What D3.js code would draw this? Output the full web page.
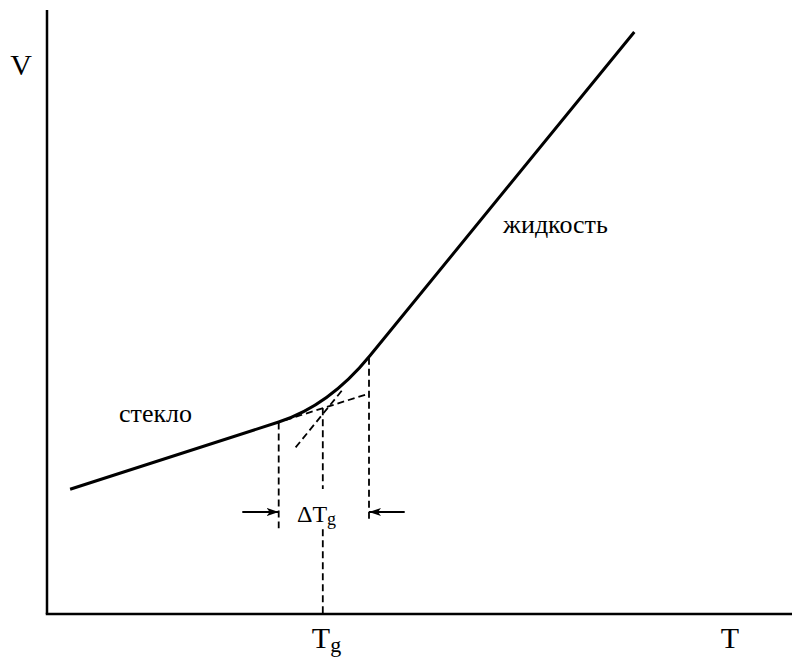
<!DOCTYPE html>
<html>
<head>
<meta charset="utf-8">
<script src="https://cdn.jsdelivr.net/npm/d3@7"></script>
<style>
  body { margin: 0; background: #fff; }
</style>
</head>
<body>
<script>
// Schematic V(T) curve, arbitrary units 0..100 on both axes
const glassLine = [[3.3, 20.8], [33.1, 32.0]];
const liquidLine = [[46.1, 43.0], [83.9, 97.0]];
const glassExtension = [[34.0, 32.3], [45.9, 36.7]];
const liquidExtension = [[42.1, 37.2], [35.4, 27.6]];
const tgValue = [39.4];
const tgTop = [34.3];
const deltaBounds = [[33.1, 31.9, 14.3], [46.0, 42.7, 15.3]];
const arrowLevel = [17.0];
const arrows = [[27.9, 33.1], [51.1, 46.0]];
const axisLabels = ['V', 'T'];
const regionLabels = ['стекло', 'жидкость'];

const width = 792;
const height = 657;

const svg = d3.select('body')
  .append('svg')
  .attr('width', width)
  .attr('height', height)
  .attr('font-family', '"Liberation Serif", "DejaVu Serif", serif');

const x = d3.scaleLinear().domain([0, 100]).range([47, 747]);
const y = d3.scaleLinear().domain([0, 100]).range([614, 14]);

// arrow head
svg.append('defs').append('marker')
  .attr('id', 'head')
  .attr('viewBox', '0 0 12 8')
  .attr('refX', 12)
  .attr('refY', 4)
  .attr('markerWidth', 12)
  .attr('markerHeight', 8)
  .attr('markerUnits', 'userSpaceOnUse')
  .attr('orient', 'auto')
  .append('path')
  .attr('d', 'M0,0 L12,4 L0,8 L3,4 Z')
  .attr('fill', '#000');

// axes (plain lines, no ticks)
svg.append('line')
  .attr('x1', x(0)).attr('y1', y(100) - 4)
  .attr('x2', x(0)).attr('y2', y(0))
  .attr('stroke', '#000').attr('stroke-width', 2.5);
svg.append('line')
  .attr('x1', x(0) - 1.25).attr('y1', y(0))
  .attr('x2', width).attr('y2', y(0))
  .attr('stroke', '#000').attr('stroke-width', 2.5);

const line = d3.line().x(d => x(d[0])).y(d => y(d[1]));

// dashed construction lines
const dashed = svg.append('g')
  .attr('fill', 'none')
  .attr('stroke', '#000')
  .attr('stroke-width', 1.8)
  .attr('stroke-dasharray', '7,4');

dashed.append('path').attr('d', line(glassExtension));
dashed.append('path').attr('d', line(liquidExtension));

deltaBounds.forEach(b => {
  dashed.append('path').attr('d', line([[b[0], b[1]], [b[0], b[2]]]));
});

dashed.append('path').attr('d', line([[tgValue[0], tgTop[0]], [tgValue[0], 0]]));

// solid V(T) curve: glass line, smooth transition, liquid line
function intersect(a, b) {
  const ka = (a[1][1] - a[0][1]) / (a[1][0] - a[0][0]);
  const kb = (b[1][1] - b[0][1]) / (b[1][0] - b[0][0]);
  const t = (b[0][1] - kb * b[0][0] - a[0][1] + ka * a[0][0]) / (ka - kb);
  return [t, a[0][1] + ka * (t - a[0][0])];
}
const ctrl = intersect(glassLine, liquidLine);

const p = d3.path();
p.moveTo(x(glassLine[0][0]), y(glassLine[0][1]));
p.lineTo(x(glassLine[1][0]), y(glassLine[1][1]));
p.quadraticCurveTo(x(ctrl[0]), y(ctrl[1]), x(liquidLine[0][0]), y(liquidLine[0][1]));
p.lineTo(x(liquidLine[1][0]), y(liquidLine[1][1]));

svg.append('path')
  .attr('d', p.toString())
  .attr('fill', 'none')
  .attr('stroke', '#000')
  .attr('stroke-width', 3)
  .attr('stroke-linejoin', 'round');

// arrows pointing at the transition interval
arrows.forEach(a => {
  svg.append('line')
    .attr('x1', x(a[0])).attr('y1', y(arrowLevel[0]))
    .attr('x2', x(a[1])).attr('y2', y(arrowLevel[0]))
    .attr('stroke', '#000')
    .attr('stroke-width', 1.8)
    .attr('marker-end', 'url(#head)');
});

// delta Tg label with white box over the dashed line
svg.append('rect')
  .attr('x', 295).attr('y', 489)
  .attr('width', 50).attr('height', 37)
  .attr('fill', '#fff');

const dLabel = svg.append('text')
  .attr('x', 297)
  .attr('y', 522)
  .attr('font-size', 24);
dLabel.append('tspan').text('ΔT');
dLabel.append('tspan').attr('font-size', 18).attr('dy', 3).text('g');

// Tg tick label
const tgLabel = svg.append('text')
  .attr('x', x(tgValue[0]) - 11)
  .attr('y', 648)
  .attr('font-size', 30);
tgLabel.append('tspan').text('T');
tgLabel.append('tspan').attr('font-size', 22).attr('dy', 4).text('g');

// axis labels
svg.append('text')
  .attr('x', 21).attr('y', 75)
  .attr('text-anchor', 'middle')
  .attr('font-size', 30)
  .text(axisLabels[0]);

svg.append('text')
  .attr('x', 730).attr('y', 648)
  .attr('text-anchor', 'middle')
  .attr('font-size', 30)
  .text(axisLabels[1]);

// region labels
svg.append('text')
  .attr('x', 119).attr('y', 422)
  .attr('font-size', 26)
  .text(regionLabels[0]);

svg.append('text')
  .attr('x', 503).attr('y', 233)
  .attr('font-size', 26)
  .text(regionLabels[1]);
</script>
</body>
</html>
